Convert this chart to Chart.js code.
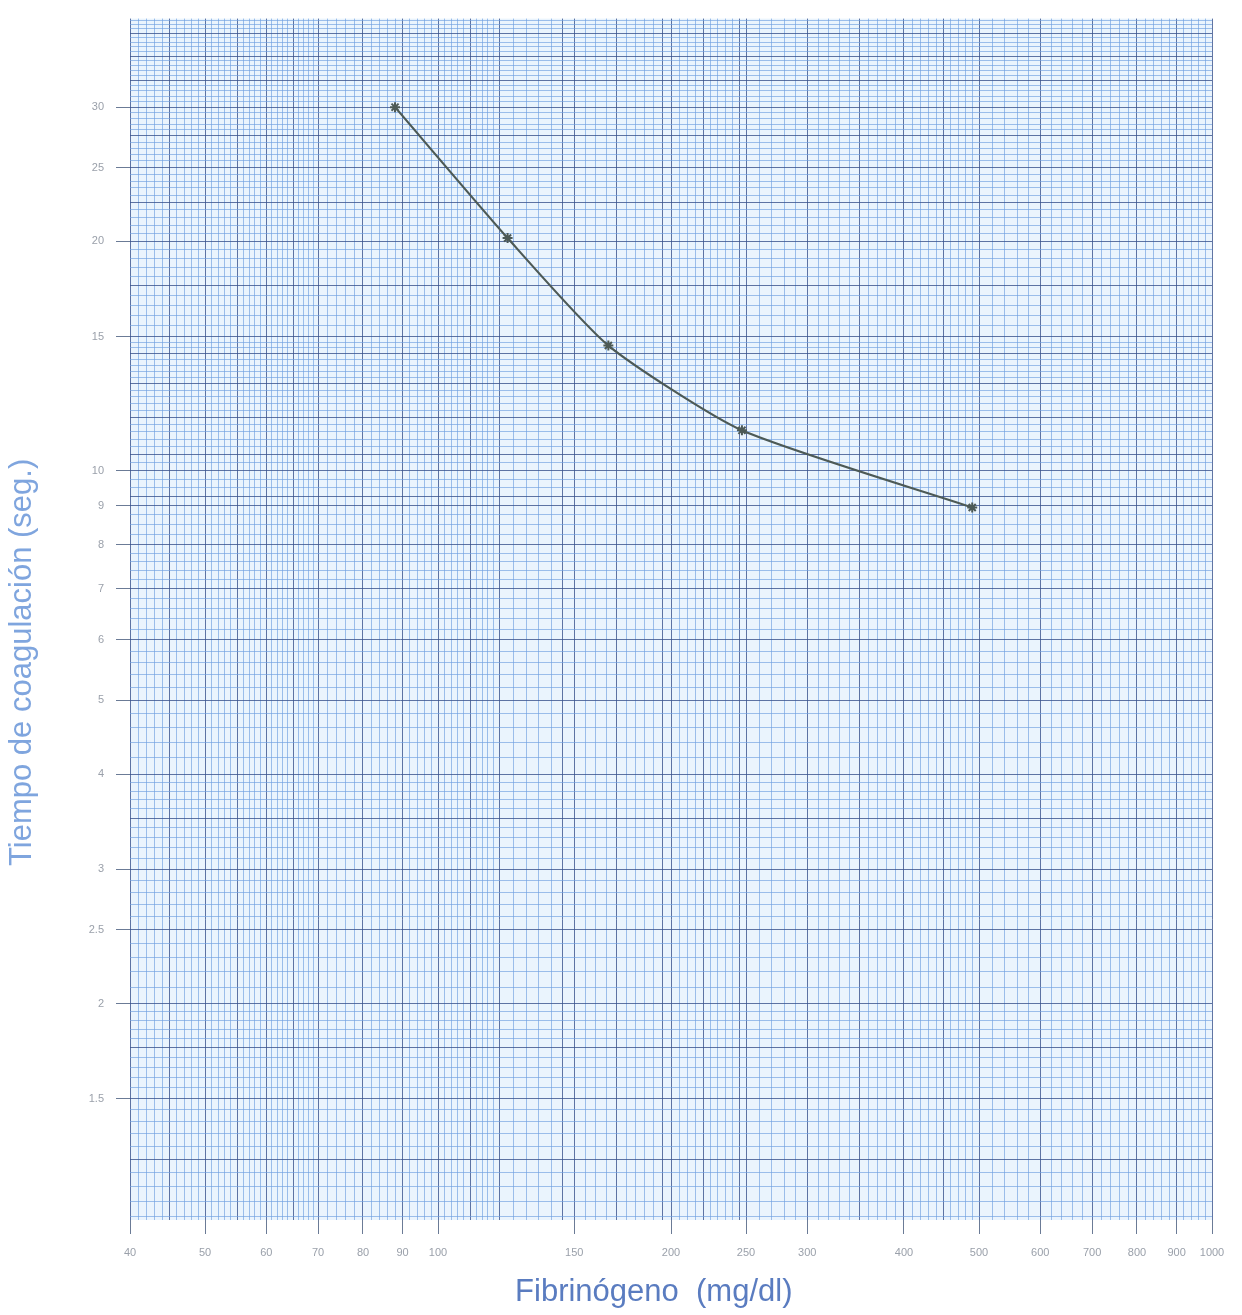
<!DOCTYPE html>
<html>
<head>
<meta charset="utf-8">
<script src="https://cdn.jsdelivr.net/npm/chart.js@4.4.1/dist/chart.umd.min.js"></script>
<style>
  html, body { margin: 0; padding: 0; background: #ffffff; }
  #wrap { width: 1242px; height: 1315px; }
</style>
</head>
<body>
<div id="wrap"><canvas id="myChart" width="1242" height="1315"></canvas></div>
<script>
const fibrinogeno = [88, 123, 166, 247, 490];
const tiempo = [30, 20.2, 14.6, 11.3, 8.95];

// Etiquetas de los ejes
const xLabels = [40, 50, 60, 70, 80, 90, 100, 150, 200, 250, 300, 400, 500, 600, 700, 800, 900, 1000];
const yLabels = [1.5, 2, 2.5, 3, 4, 5, 6, 7, 8, 9, 10, 15, 20, 25, 30];

// Tramos de la cuadrícula [desde, hasta, paso]
const xGrid = [[40, 70, 1], [70, 120, 2], [120, 250, 5], [250, 500, 10], [500, 1000, 20]];
const yGrid = [[1, 2, 0.05], [2, 4, 0.1], [4, 8, 0.2], [8, 15, 0.25], [15, 40, 0.5]];

const X_MIN = 40, X_MAX = 1000, Y_MIN = 1.04, Y_MAX = 39.2;

function buildLines(segs, lo, hi) {
    const lines = new Map();
    segs.forEach(([a, b, s], i) => {
        const last = i === segs.length - 1;
        for (let k = 0; ; k++) {
            const v = Math.round((a + k * s) * 1000) / 1000;
            if (v > b || (!last && v >= b)) break;
            if (v < lo || v > hi) continue;
            lines.set(v, k % 5 === 0);
        }
    });
    return lines;
}
const xLines = buildLines(xGrid, X_MIN, X_MAX);
const yLines = buildLines(yGrid, Y_MIN, Y_MAX);

const key = v => Math.round(v * 1000) / 1000;
const gridColor = (lines, labels) => ctx => {
    const v = key(ctx.tick.value);
    if (labels.includes(v) || lines.get(v)) return 'rgba(58, 82, 140, 0.8)';
    return 'rgba(110, 160, 225, 0.65)';
};
const tickColor = labels => ctx => labels.includes(key(ctx.tick.value)) ? '#6b7b96' : 'rgba(0,0,0,0)';

const paperBg = {
    id: 'paperBg',
    beforeDraw(chart) {
        const { ctx, chartArea: a } = chart;
        ctx.save();
        ctx.fillStyle = '#eaf4fd';
        ctx.fillRect(a.left, a.top, a.right - a.left, a.bottom - a.top);
        ctx.restore();
    }
};

const data = {
    datasets: [{
        label: 'Tiempo de coagulación',
        data: fibrinogeno.map((x, i) => ({ x: x, y: tiempo[i] })),
        borderColor: '#4d5a56',
        backgroundColor: '#4d5a56',
        borderWidth: 2.2,
        tension: 0.2,
        pointStyle: 'star',
        pointRadius: 5,
        pointBorderWidth: 2
    }]
};

const config = {
    type: 'line',
    data: data,
    plugins: [paperBg],
    options: {
        responsive: false,
        animation: false,
        layout: { padding: { top: 12, right: 30, left: 0, bottom: 0 } },
        plugins: { legend: { display: false }, tooltip: { enabled: false } },
        scales: {
            x: {
                type: 'logarithmic',
                min: X_MIN,
                max: X_MAX,
                afterBuildTicks: s => { s.ticks = [...xLines.keys()].map(v => ({ value: v })); },
                afterFit: s => { s.height = 95; },
                ticks: {
                    autoSkip: false,
                    maxRotation: 0,
                    padding: 12,
                    color: '#9aa0aa',
                    font: { family: 'Liberation Sans', size: 11 },
                    callback: v => xLabels.includes(key(v)) ? String(v) : ''
                },
                grid: {
                    color: gridColor(xLines, xLabels),
                    tickColor: tickColor(xLabels),
                    tickLength: 14,
                    lineWidth: 1
                },
                border: { display: false },
                title: {
                    display: true,
                    text: 'Fibrinógeno  (mg/dl)    ',
                    color: '#5a7cc0',
                    font: { family: 'Liberation Sans', size: 31 },
                    padding: { top: 0 }
                }
            },
            y: {
                type: 'logarithmic',
                min: Y_MIN,
                max: Y_MAX,
                afterBuildTicks: s => { s.ticks = [...yLines.keys()].map(v => ({ value: v })); },
                afterFit: s => { s.width = 130; },
                ticks: {
                    autoSkip: false,
                    padding: 12,
                    color: '#9aa0aa',
                    font: { family: 'Liberation Sans', size: 11 },
                    callback: v => yLabels.includes(key(v)) ? String(v) : ''
                },
                grid: {
                    color: gridColor(yLines, yLabels),
                    tickColor: tickColor(yLabels),
                    tickLength: 14,
                    lineWidth: 1
                },
                border: { display: false },
                title: {
                    display: true,
                    text: 'Tiempo de coagulación (seg.)          ',
                    color: '#7fa5de',
                    font: { family: 'Liberation Sans', size: 31 },
                    padding: { bottom: 40 }
                }
            }
        }
    }
};

var myChart = new Chart(document.getElementById('myChart'), config);
</script>
</body>
</html>
